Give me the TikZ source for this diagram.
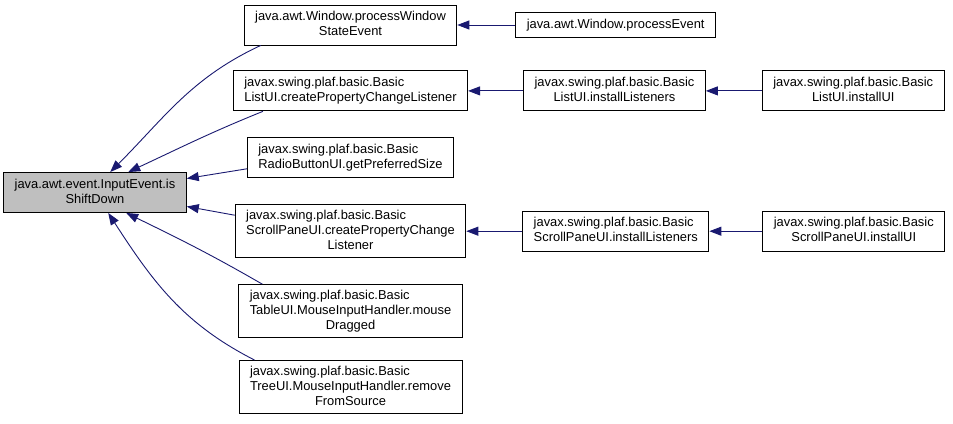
\documentclass[tikz,border=0pt]{standalone}
\usepackage{fontspec}
\setmainfont{Liberation Sans}
\usetikzlibrary{arrows.meta,positioning}
\definecolor{edgeblue}{RGB}{25,25,112}
\definecolor{rootgray}{RGB}{191,191,191}
\newcommand{\ctab}[1]{\begin{tabular}{@{}c@{}}#1\end{tabular}}
\newcommand{\ltab}[1]{\begin{tabular}{@{}l@{}}#1\end{tabular}}
\newcommand{\lastrow}[1]{\multicolumn{1}{@{}c@{}}{#1}}

\begin{document}
\begin{tikzpicture}[x=1pt, y=-1pt, font=\fontsize{12.9}{15}\selectfont,
    box/.style={draw, rectangle, line width=0.9pt, fill=white, inner xsep=11pt, inner ysep=5pt},
    tallbox/.style={box, inner ysep=4pt},
    call/.style={-{Triangle[length=12pt,width=9pt]}, color=edgeblue, line width=0.9pt}]
    \useasboundingbox (0,0) rectangle (953,423);

    % called function
    \node[box, fill=rootgray] (shift) at (95,192.5) {\ctab{java.awt.event.InputEvent.is\\ShiftDown}};

    % direct callers
    \node[box] (winstate) at (350.5,25) {\ctab{java.awt.Window.processWindow\\StateEvent}};
    \node[box, below=25pt of winstate] (listpcl) {\ltab{javax.swing.plaf.basic.Basic\\ListUI.createPropertyChangeListener}};
    \node[box, below=26pt of listpcl] (radiosize) {\ltab{javax.swing.plaf.basic.Basic\\RadioButtonUI.getPreferredSize}};
    \node[tallbox, below=26pt of radiosize] (scrollpcl) {\ltab{javax.swing.plaf.basic.Basic\\ScrollPaneUI.createPropertyChange\\\lastrow{Listener}}};
    \node[tallbox, below=26pt of scrollpcl] (tabledrag) {\ltab{javax.swing.plaf.basic.Basic\\TableUI.MouseInputHandler.mouse\\\lastrow{Dragged}}};
    \node[tallbox, below=22pt of tabledrag] (treeremove) {\ltab{javax.swing.plaf.basic.Basic\\TreeUI.MouseInputHandler.remove\\\lastrow{FromSource}}};

    % second level
    \node[box, right=58pt of winstate] (winevent) {\ctab{java.awt.Window.processEvent}};
    \node[box, right=55pt of listpcl] (listinst) {\ctab{javax.swing.plaf.basic.Basic\\ListUI.installListeners}};
    \node[box, right=56pt of scrollpcl] (scrollinst) {\ltab{javax.swing.plaf.basic.Basic\\ScrollPaneUI.installListeners}};

    % third level
    \node[box, right=56pt of listinst] (listui) {\ctab{javax.swing.plaf.basic.Basic\\ListUI.installUI}};
    \node[box, right=53pt of scrollinst] (scrollui) {\ctab{javax.swing.plaf.basic.Basic\\ScrollPaneUI.installUI}};

    % calls into the root
    \draw[call] ([xshift=17pt]winstate.south west) to[out=205,in=45] ([xshift=107pt]shift.north west);
    \draw[call] ([xshift=30pt]listpcl.south west) to[out=202,in=25] ([xshift=125pt]shift.north west);
    \draw[call] ([yshift=-11pt]radiosize.west) -- ([yshift=14pt]shift.east);
    \draw[call] ([yshift=16pt]scrollpcl.west) -- ([yshift=-14pt]shift.east);
    \draw[call] ([xshift=24pt]tabledrag.north west) to[out=150,in=-26] ([xshift=123pt]shift.south west);
    \draw[call] ([xshift=16pt]treeremove.north west) to[out=153,in=-57] ([xshift=105pt]shift.south west);

    % calls further out
    \draw[call] (winevent) -- (winstate);
    \draw[call] (listinst) -- (listpcl);
    \draw[call] (listui) -- (listinst);
    \draw[call] (scrollinst) -- (scrollpcl);
    \draw[call] (scrollui) -- (scrollinst);
\end{tikzpicture}
\end{document}
